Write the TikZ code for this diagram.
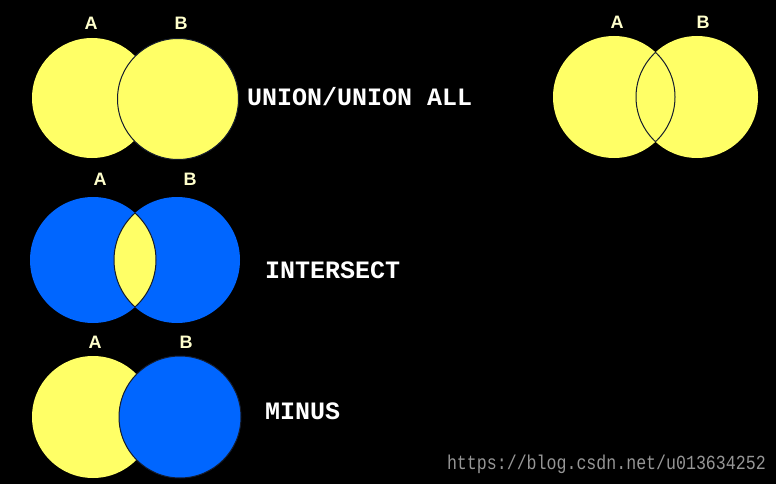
\documentclass[tikz,border=0pt]{standalone}
\usepackage{fontspec}
\setmainfont{Liberation Sans}
\newfontfamily\opmono{Liberation Mono}
\newfontfamily\wmfont[FakeStretch=0.83]{Liberation Mono}
\definecolor{vy}{RGB}{255,255,102}
\definecolor{vb}{RGB}{0,102,255}
\definecolor{lab}{RGB}{255,255,204}
\definecolor{edgec}{RGB}{20,28,45}
\definecolor{wm}{RGB}{150,150,150}
\begin{document}
\begin{tikzpicture}[x=1pt,y=-1pt,
  setlabel/.style={text=lab, font=\fontsize{18}{18}\selectfont\bfseries, inner sep=0},
  optext/.style={text=white, font=\opmono\bfseries\fontsize{25}{25}\selectfont, anchor=west, inner sep=0},
  outl/.style={draw=edgec, line width=1pt}]
\fill[black] (0,0) rectangle (776,484);
\useasboundingbox (0,0) rectangle (776,484);

% ---- UNION / UNION ALL (top left)
\coordinate (uA) at (92,98);
\coordinate (uB) at (178,99);
\fill[vy] (uA) circle (60);
\filldraw[fill=vy, outl] (uB) circle (60.5);
\node[setlabel] (luA) at (91,23) {A};
\node[setlabel] (luB) at (181,23) {B};
\node[optext] (tunion) at (247,97) {UNION/UNION ALL};

% ---- top right
\coordinate (rA) at (614,97);
\coordinate (rB) at (697,97);
\fill[vy] (rA) circle (61);
\fill[vy] (rB) circle (61);
\begin{scope}
  \clip (rA) circle (61);
  \draw[outl] (rB) circle (61);
\end{scope}
\begin{scope}
  \clip (rB) circle (61);
  \draw[outl] (rA) circle (61);
\end{scope}
\node[setlabel] (lrA) at (617,22) {A};
\node[setlabel] (lrB) at (703,22) {B};

% ---- INTERSECT
\coordinate (iA) at (93,260);
\coordinate (iB) at (177,260);
\fill[vb] (iA) circle (63);
\fill[vb] (iB) circle (63);
\begin{scope}
  \clip (iA) circle (63);
  \filldraw[fill=vy, outl] (iB) circle (63);
\end{scope}
\begin{scope}
  \clip (iB) circle (63);
  \draw[outl] (iA) circle (63);
\end{scope}
\node[setlabel] (liA) at (100,179) {A};
\node[setlabel] (liB) at (190,179) {B};
\node[optext] (tinter) at (265,270) {INTERSECT};

% ---- MINUS
\coordinate (mA) at (93,417);
\coordinate (mB) at (180,417);
\fill[vy] (mA) circle (61);
\filldraw[fill=vb, outl] (mB) circle (61);
\node[setlabel] (lmA) at (95,342) {A};
\node[setlabel] (lmB) at (186,342) {B};
\node[optext] (tminus) at (265,411) {MINUS};

% ---- watermark
\node[text=wm, font=\wmfont\fontsize{20}{20}\selectfont, anchor=east, inner sep=0] (wmark) at (766,464) {https://blog.csdn.net/u013634252};
\end{tikzpicture}
\end{document}
